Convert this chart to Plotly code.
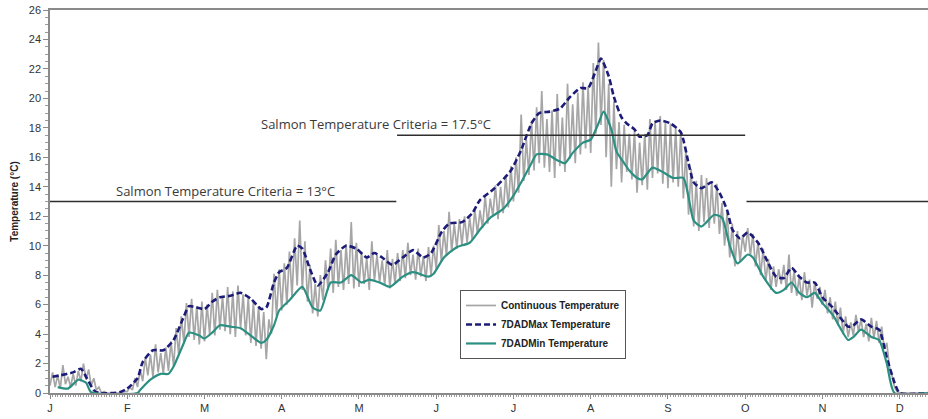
import plotly.graph_objects as go

# month tick labels, one month = 30 days on the x axis
months = ["J", "F", "M", "A", "M", "J", "J", "A", "S", "O", "N", "D"]
month_days = [i * 30 for i in range(12)]

# continuous record, one reading a day (alternating low / high of the diel cycle)
cont_jan = [0.5, 1.4, 0.4, 1.2, 0.3, 1.9, 0.6, 1.1, 0.4, 1.3, 0.5, 1.5, 0.8, 2.0, 0.9,
            1.6, 0.5, 1.0, 0.2, 0.4, 0.0, 0.1, 0.0, 0.0, 0.0, 0.0, 0.0, 0.0, 0.0, 0.1]
cont_feb = [0.1, 0.4, 0.2, 1.0, 0.4, 1.6, 0.8, 2.4, 1.2, 2.6, 1.1, 3.3, 1.4, 2.7, 1.3,
            3.1, 1.5, 3.5, 1.8, 4.4, 2.6, 5.2, 3.4, 6.1, 3.8, 6.4, 3.6, 5.9, 3.3, 6.2]
cont_mar = [3.5, 6.0, 4.0, 6.8, 3.9, 7.0, 4.3, 6.6, 4.2, 7.2, 4.0, 6.9, 3.8, 7.3, 4.4,
            6.7, 3.9, 6.5, 3.4, 6.2, 3.2, 5.9, 3.0, 5.5, 2.3, 5.0, 4.0, 8.1, 5.2, 8.4]
cont_apr = [5.6, 8.8, 6.0, 9.6, 6.5, 10.5, 7.3, 11.7, 7.0, 10.3, 6.2, 8.7, 5.4, 7.4, 5.2,
            8.0, 6.3, 9.0, 7.0, 9.8, 6.8, 10.4, 7.2, 9.7, 7.0, 10.1, 7.4, 11.6, 7.1, 10.2]
cont_may = [7.2, 9.6, 7.4, 9.2, 7.0, 10.3, 7.6, 9.4, 7.5, 9.0, 7.3, 9.7, 7.1, 9.1, 7.4,
            9.5, 7.6, 9.7, 7.8, 10.2, 8.0, 9.4, 7.7, 9.8, 7.9, 9.3, 7.6, 9.9, 8.0, 10.0]
cont_jun = [8.4, 11.4, 8.9, 11.0, 9.3, 12.3, 9.6, 11.5, 9.8, 11.8, 10.0, 12.0, 10.2, 11.9, 10.4,
            12.5, 10.8, 12.4, 11.2, 13.4, 11.5, 13.2, 12.0, 14.1, 11.8, 14.0, 12.2, 14.8, 12.6, 15.4]
cont_jul = [13.0, 16.0, 13.6, 18.9, 14.4, 17.2, 14.8, 18.5, 15.1, 19.4, 15.6, 20.5, 15.3, 18.6, 15.0,
            19.2, 14.6, 20.3, 15.4, 18.7, 15.0, 21.0, 15.9, 19.6, 15.6, 20.4, 16.2, 21.1, 16.6, 20.8]
cont_aug = [16.3, 22.4, 17.6, 23.8, 18.2, 22.6, 16.0, 21.0, 14.0, 19.8, 15.2, 18.4, 14.3, 18.2, 15.0,
            17.6, 14.5, 17.8, 13.6, 17.0, 14.1, 17.6, 13.8, 18.6, 14.6, 18.5, 14.9, 18.8, 14.2, 18.4]
cont_sep = [13.9, 18.3, 14.3, 18.0, 14.0, 17.8, 13.2, 16.6, 12.1, 15.2, 11.3, 14.4, 11.0, 14.8, 11.6,
            14.6, 11.2, 14.3, 11.5, 14.2, 10.8, 12.9, 10.0, 12.3, 9.2, 11.5, 8.6, 11.0, 8.9, 10.7]
cont_oct = [9.6, 11.2, 9.3, 10.8, 8.6, 10.3, 8.0, 9.8, 7.6, 9.1, 7.0, 8.6, 7.2, 8.4, 7.4,
            8.7, 7.0, 9.4, 6.8, 8.3, 6.6, 7.9, 6.3, 8.2, 6.6, 7.7, 5.8, 7.5, 6.4, 7.2]
cont_nov = [6.0, 7.0, 5.4, 6.5, 5.0, 6.2, 4.6, 5.8, 4.0, 5.2, 3.8, 4.8, 3.9, 5.3, 4.2,
            5.0, 3.8, 4.7, 3.5, 5.1, 3.7, 4.9, 3.4, 4.5, 3.0, 3.4, 1.8, 1.2, 0.4, 0.1]
cont_dec = [0.0, 0.0, 0.0, 0.0, 0.0, 0.0, 0.0, 0.0, 0.0, 0.0, 0.0]

# 7-day average of daily maximum
max_day = [1, 4, 9, 12, 14, 17, 19, 27, 30, 34, 36, 40, 44, 48, 52, 54, 57, 60, 63, 66, 70,
           74, 78, 82, 84, 87, 89, 92, 96, 98, 101, 104, 108, 111, 115, 119, 123, 126, 129,
           133, 137, 141, 145, 148, 152, 155, 160, 164, 167, 172, 176, 179, 183, 187, 190,
           194, 198, 202, 206, 209, 212, 214, 217, 219, 222, 224, 227, 229, 232, 234, 237,
           241, 245, 248, 250, 253, 257, 260, 263, 265, 268, 271, 275, 279, 282, 285, 288,
           291, 294, 297, 300, 304, 310, 312, 315, 319, 322, 325, 328, 330, 341]
max_t = [1.1, 1.2, 1.4, 1.65, 1.1, 0.2, 0.0, 0.05, 0.3, 1.0, 2.1, 2.9, 2.9, 3.6, 5.2, 5.9,
         5.8, 5.7, 6.2, 6.5, 6.6, 6.8, 6.4, 5.7, 5.8, 7.5, 8.2, 8.5, 10.0, 9.8, 8.4, 7.3, 8.2,
         9.4, 10.0, 9.8, 9.2, 9.5, 9.2, 8.7, 9.2, 9.7, 9.2, 9.5, 10.9, 11.5, 11.6, 12.2, 13.1,
         13.8, 14.5, 15.1, 16.5, 18.3, 19.0, 19.1, 19.3, 20.1, 20.7, 20.7, 21.9, 22.7, 21.5,
         20.1, 18.7, 18.3, 17.9, 17.4, 17.5, 18.3, 18.5, 18.3, 17.7, 15.6, 14.3, 13.9, 14.3,
         13.6, 12.4, 11.1, 10.5, 10.9, 10.2, 8.8, 7.9, 7.8, 8.5, 7.9, 7.5, 7.5, 6.5, 5.8, 4.5,
         4.6, 5.0, 4.5, 4.3, 2.4, 0.7, 0.0, 0.0]

# 7-day average of daily minimum
min_day = [3, 7, 11, 14, 16, 34, 35, 39, 43, 46, 48, 52, 54, 58, 60, 63, 66, 70, 74, 78, 82,
           84, 87, 89, 93, 98, 102, 105, 109, 113, 117, 121, 124, 128, 132, 137, 141, 147,
           149, 153, 158, 163, 167, 171, 176, 180, 183, 187, 189, 193, 197, 200, 203, 207,
           210, 213, 215, 218, 220, 223, 225, 228, 230, 234, 238, 242, 246, 248, 250, 253,
           255, 258, 261, 264, 267, 271, 273, 277, 282, 285, 288, 291, 294, 297, 300, 304,
           310, 312, 315, 319, 322, 325, 328, 341]
min_t = [0.4, 0.3, 0.9, 0.7, 0.05, 0.0, 0.2, 0.9, 1.3, 1.3, 1.8, 3.4, 4.1, 3.9, 3.7, 4.1,
         4.6, 4.5, 4.4, 3.9, 3.4, 3.6, 4.6, 5.6, 6.3, 7.2, 5.8, 5.6, 7.5, 7.5, 8.0, 7.5, 7.7,
         7.5, 7.2, 7.9, 8.2, 7.9, 8.1, 9.2, 9.9, 10.2, 11.1, 11.9, 12.5, 13.4, 14.3, 15.6,
         16.2, 16.2, 15.8, 15.6, 16.3, 17.0, 17.2, 18.3, 19.1, 17.9, 16.4, 15.6, 15.1, 14.6,
         14.5, 15.3, 15.0, 14.6, 14.6, 13.3, 11.7, 11.3, 11.6, 12.1, 11.9, 10.0, 8.8, 9.4,
         9.2, 7.9, 6.8, 7.0, 7.5, 6.8, 6.5, 6.8, 6.1, 5.3, 3.6, 3.8, 4.3, 3.8, 3.6, 2.0, 0.0,
         0.0]

# salmon criteria segments
crit13_a_day = [0, 134.5]
crit13_b_day = [270.5, 341]
crit175_day = [134.8, 270]

cont_t = (cont_jan + cont_feb + cont_mar + cont_apr + cont_may + cont_jun + cont_jul
          + cont_aug + cont_sep + cont_oct + cont_nov + cont_dec)
cont_day = list(range(len(cont_t)))

fig = go.Figure()

fig.add_trace(go.Scatter(x=cont_day, y=cont_t, mode="lines", name="Continuous Temperature",
                         line=dict(color="#a6a6a6", width=1.7)))
fig.add_trace(go.Scatter(x=max_day, y=max_t, mode="lines", name="7DADMax Temperature",
                         line=dict(color="#1c1c78", width=2.6, dash="6px,3px", shape="spline",
                                   smoothing=0.6)))
fig.add_trace(go.Scatter(x=min_day, y=min_t, mode="lines", name="7DADMin Temperature",
                         line=dict(color="#2b8f82", width=2.2, shape="spline", smoothing=0.6)))

for xs, yv in [(crit13_a_day, 13), (crit13_b_day, 13), (crit175_day, 17.5)]:
    fig.add_trace(go.Scatter(x=xs, y=[yv, yv], mode="lines", showlegend=False,
                             hoverinfo="skip", line=dict(color="#2e2e2e", width=1.5)))

txt_font = dict(family="Open Sans", size=13, color="#3a3a3a")
fig.add_annotation(x=68, y=13, text="Salmon Temperature Criteria = 13°C", showarrow=False,
                   yanchor="bottom", yshift=0, font=txt_font)
fig.add_annotation(x=126.7, y=17.5, text="Salmon Temperature Criteria = 17.5°C",
                   showarrow=False, yanchor="bottom", yshift=0, font=txt_font)

fig.update_xaxes(range=[0, 341], tickmode="array", tickvals=month_days, ticktext=months,
                 showgrid=False, zeroline=False, showline=True, linecolor="#8a8a8a",
                 linewidth=1.5, mirror=True, ticks="outside", ticklen=4, tickcolor="#8a8a8a",
                 minor=dict(ticks="outside", dtick=1, ticklen=2, tickcolor="#9a9a9a",
                            showgrid=False),
                 tickfont=dict(family="Liberation Sans", size=11, color="#333333"),
                 automargin=False)
fig.update_yaxes(range=[0, 26], dtick=2, showgrid=False, zeroline=False, showline=True,
                 linecolor="#8a8a8a", linewidth=1.5, ticks="outside", ticklen=5,
                 tickcolor="#8a8a8a",
                 minor=dict(ticks="outside", dtick=0.5, ticklen=3, tickcolor="#9a9a9a",
                            showgrid=False),
                 tickfont=dict(family="Liberation Sans", size=11, color="#333333"),
                 title=dict(text="<b>Temperature (°C)</b>", standoff=8,
                            font=dict(family="Liberation Sans", size=10, color="#222222")),
                 automargin=False)

fig.update_layout(
    width=928, height=419,
    margin=dict(l=50, r=0, t=10, b=26),
    plot_bgcolor="white", paper_bgcolor="white",
    legend=dict(x=0.467, y=0.269, xanchor="left", yanchor="top",
                bordercolor="#555555", borderwidth=1, bgcolor="white",
                font=dict(family="Liberation Sans", size=10, color="#222222"),
                tracegroupgap=0, itemwidth=30),
    showlegend=True,
)
for tr in fig.data[:3]:
    tr.name = "<b>" + tr.name + "</b>"

# drop the page's default body margin so the figure fills the window
fig.write_html("out.html", config={"displayModeBar": False},
               post_script="document.body.style.margin = '0';")
